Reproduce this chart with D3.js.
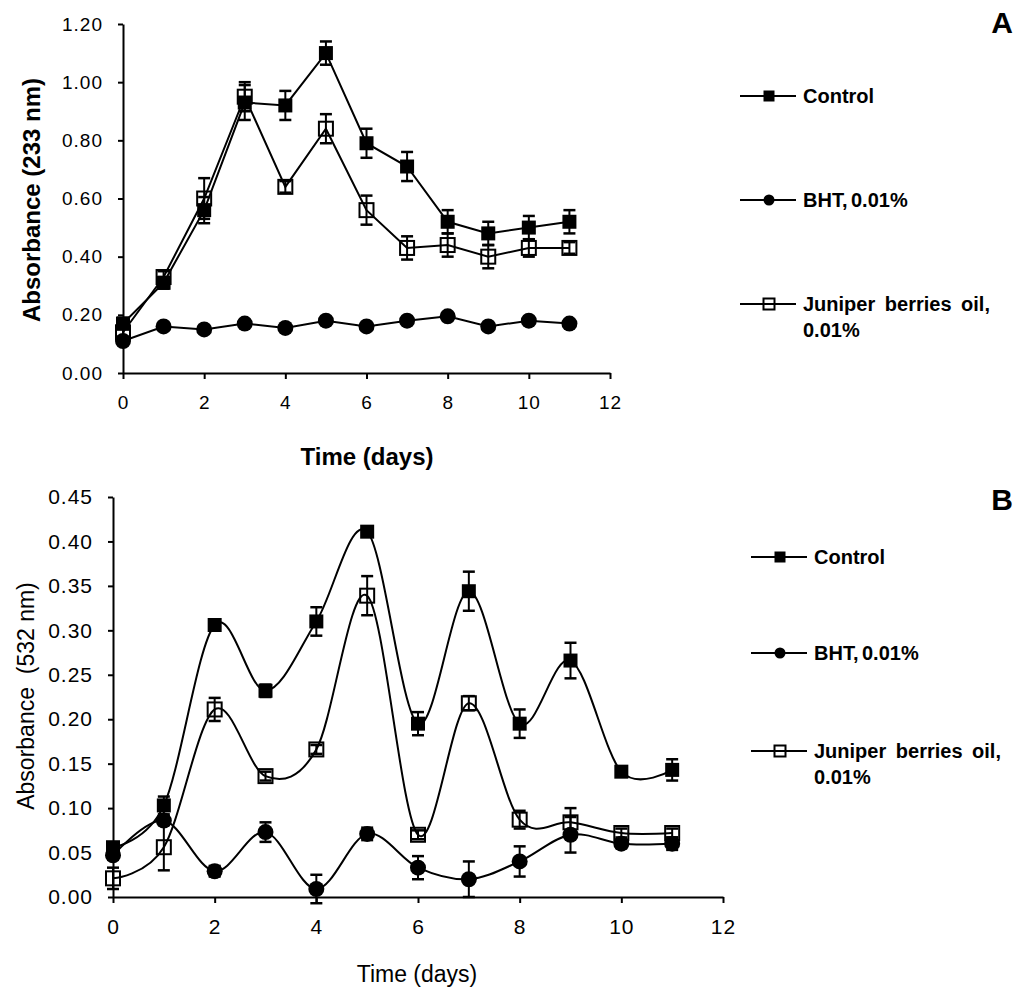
<!DOCTYPE html>
<html>
<head>
<meta charset="utf-8">
<script src="https://cdn.jsdelivr.net/npm/d3@7"></script>
<style>
  body { margin: 0; background: #fff; }
  svg { display: block; font-family: "Liberation Sans", Arial, sans-serif; }
  .axis path, .axis line { stroke: #000; stroke-width: 2px; }
</style>
</head>
<body>
<svg id="chart" width="1024" height="995"></svg>
<script>
// dias de medição
var days = [0, 1, 2, 3, 4, 5, 6, 7, 8, 9, 10, 11];

// Painel A - absorbância a 233 nm
var controlA    = [0.17, 0.31, 0.56, 0.93, 0.92, 1.10, 0.79, 0.71, 0.52, 0.48, 0.50, 0.52];
var controlAErr = [0.02, 0.02, 0.045, 0.06, 0.05, 0.04, 0.05, 0.05, 0.04, 0.04, 0.04, 0.04];
var bhtA        = [0.11, 0.16, 0.15, 0.17, 0.155, 0.18, 0.16, 0.18, 0.195, 0.16, 0.18, 0.17];
var bhtAErr     = [0.01, 0.005, 0.005, 0.005, 0.005, 0.005, 0.005, 0.005, 0.005, 0.005, 0.005, 0.005];
var juniperA    = [0.14, 0.33, 0.60, 0.95, 0.64, 0.84, 0.56, 0.43, 0.44, 0.40, 0.43, 0.43];
var juniperAErr = [0.02, 0.02, 0.07, 0.05, 0.02, 0.05, 0.05, 0.04, 0.04, 0.04, 0.03, 0.02];

// Painel B - absorbância a 532 nm
var controlB    = [0.056, 0.103, 0.306, 0.232, 0.31, 0.411, 0.195, 0.344, 0.195, 0.266, 0.141, 0.143];
var controlBErr = [0.005, 0.01, 0.005, 0.007, 0.016, 0.005, 0.013, 0.022, 0.016, 0.02, 0.005, 0.012];
var bhtB        = [0.047, 0.086, 0.029, 0.073, 0.009, 0.071, 0.033, 0.02, 0.04, 0.07, 0.06, 0.06];
var bhtBErr     = [0.005, 0.005, 0.006, 0.011, 0.016, 0.007, 0.013, 0.02, 0.017, 0.02, 0.005, 0.007];
var juniperB    = [0.021, 0.056, 0.211, 0.136, 0.166, 0.339, 0.07, 0.218, 0.087, 0.084, 0.072, 0.072];
var juniperBErr = [0.012, 0.026, 0.013, 0.005, 0.005, 0.022, 0.005, 0.008, 0.01, 0.016, 0.005, 0.005];

// rótulos
var seriesNames = ["Control", "BHT, 0.01%", "Juniper berries oil,", "0.01%"];
var xTicks = [0, 2, 4, 6, 8, 10, 12];
var yTicksA = [0, 0.2, 0.4, 0.6, 0.8, 1.0, 1.2];
var yTicksB = [0, 0.05, 0.1, 0.15, 0.2, 0.25, 0.3, 0.35, 0.4, 0.45];

const svg = d3.select("#chart");

function marker(g, shape, x, y, size) {
	if (shape === "circle") {
		g.append("circle").attr("cx", x).attr("cy", y).attr("r", size / 2).attr("fill", "#000");
	} else {
		g.append("rect")
			.attr("x", x - size / 2).attr("y", y - size / 2)
			.attr("width", size).attr("height", size)
			.attr("fill", shape === "square" ? "#000" : "none")
			.attr("stroke", "#000")
			.attr("stroke-width", shape === "square" ? 0 : 2);
	}
}

function painel(cfg) {
	const x = d3.scaleLinear().domain([0, 12]).range([cfg.left, cfg.right]);
	const y = d3.scaleLinear().domain([0, cfg.ymax]).range([cfg.bottom, cfg.top]);

	const g = svg.append("g");

	// eixos
	const ax = g.append("g").attr("class", "axis")
		.attr("transform", `translate(0,${cfg.bottom})`)
		.call(d3.axisBottom(x).tickValues(xTicks).tickSize(6).tickSizeOuter(0).tickFormat(d3.format("d")));
	ax.selectAll("text").attr("font-size", cfg.tickFont).attr("font-family", "Liberation Sans, Arial")
		.attr("fill", "#000").attr("y", cfg.xLabelY).style("letter-spacing", "1px");

	const ay = g.append("g").attr("class", "axis")
		.attr("transform", `translate(${cfg.left},0)`)
		.call(d3.axisLeft(y).tickValues(cfg.yTicks).tickSize(5).tickSizeOuter(0).tickFormat(d3.format(".2f")));
	ay.selectAll("text").attr("font-size", cfg.tickFont).attr("font-family", "Liberation Sans, Arial")
		.attr("fill", "#000").attr("x", -cfg.labelGap).style("letter-spacing", "1px");

	// títulos dos eixos
	g.append("text")
		.attr("x", cfg.xTitle[0]).attr("y", cfg.xTitle[1])
		.attr("text-anchor", "middle")
		.attr("font-size", cfg.titleFont).attr("font-weight", cfg.bold ? "bold" : "normal")
		.text("Time (days)");

	g.append("text")
		.attr("transform", `translate(${cfg.yTitle[0]},${cfg.yTitle[1]}) rotate(-90)`)
		.attr("text-anchor", "middle")
		.attr("font-size", cfg.titleFont).attr("font-weight", cfg.bold ? "bold" : "normal")
		.style("white-space", "pre")
		.text(cfg.yLabel);

	const line = d3.line()
		.x((d, i) => x(days[i]))
		.y(d => y(d))
		.curve(cfg.curve);

	cfg.series.forEach(s => {
		const sg = g.append("g");
		sg.append("path")
			.attr("d", line(s.values))
			.attr("fill", "none").attr("stroke", "#000").attr("stroke-width", 2);

		// barras de erro
		s.values.forEach((v, i) => {
			const cx = x(days[i]);
			const e = s.err[i];
			sg.append("line").attr("x1", cx).attr("x2", cx)
				.attr("y1", y(v - e)).attr("y2", y(v + e))
				.attr("stroke", "#000").attr("stroke-width", 2);
			[v - e, v + e].forEach(b => {
				sg.append("line").attr("x1", cx - 6).attr("x2", cx + 6)
					.attr("y1", y(b)).attr("y2", y(b))
					.attr("stroke", "#000").attr("stroke-width", 2.5);
			});
		});

		s.values.forEach((v, i) => {
			marker(sg, s.shape, x(days[i]), y(v), s.shape === "circle" ? 16 : 14);
		});
	});

	// legenda
	const lg = g.append("g");
	cfg.legendY.forEach((ly, k) => {
		lg.append("line")
			.attr("x1", cfg.legendX).attr("x2", cfg.legendX + 56)
			.attr("y1", ly).attr("y2", ly)
			.attr("stroke", "#000").attr("stroke-width", 2);
		marker(lg, cfg.series[k].shape, cfg.legendX + 29, ly, 11);
		lg.append("text")
			.attr("x", cfg.legendX + 63).attr("y", ly).attr("dy", "0.36em")
			.attr("font-size", 20).attr("font-weight", "bold")
			.style("word-spacing", k === 2 ? "4px" : "-2px")
			.text(seriesNames[k]);
	});
	lg.append("text")
		.attr("x", cfg.legendX + 63).attr("y", cfg.legendY[2] + 26).attr("dy", "0.36em")
		.attr("font-size", 20).attr("font-weight", "bold")
		.text(seriesNames[3]);

	// letra do painel
	g.append("text")
		.attr("x", 1002).attr("y", cfg.letterY)
		.attr("text-anchor", "middle")
		.attr("font-size", 30).attr("font-weight", "bold")
		.text(cfg.letter);
}

painel({
	left: 123, right: 610, top: 24, bottom: 373, ymax: 1.2,
	yTicks: yTicksA, tickFont: 19, labelGap: 20, xLabelY: 23,
	titleFont: 24, bold: true,
	xTitle: [367, 465], yTitle: [40, 200], yLabel: "Absorbance (233 nm)",
	curve: d3.curveLinear,
	series: [
		{ values: controlA, err: controlAErr, shape: "square" },
		{ values: bhtA, err: bhtAErr, shape: "circle" },
		{ values: juniperA, err: juniperAErr, shape: "open" }
	],
	legendX: 740, legendY: [96, 200, 304],
	letter: "A", letterY: 33
});

painel({
	left: 113, right: 723, top: 497, bottom: 897, ymax: 0.45,
	yTicks: yTicksB, tickFont: 21, labelGap: 20, xLabelY: 22,
	titleFont: 23, bold: false,
	xTitle: [417, 982], yTitle: [34, 696], yLabel: "Absorbance  (532 nm)",
	curve: d3.curveCardinal.tension(0),
	series: [
		{ values: controlB, err: controlBErr, shape: "square" },
		{ values: bhtB, err: bhtBErr, shape: "circle" },
		{ values: juniperB, err: juniperBErr, shape: "open" }
	],
	legendX: 751, legendY: [557, 653, 751],
	letter: "B", letterY: 510
});
</script>
</body>
</html>
